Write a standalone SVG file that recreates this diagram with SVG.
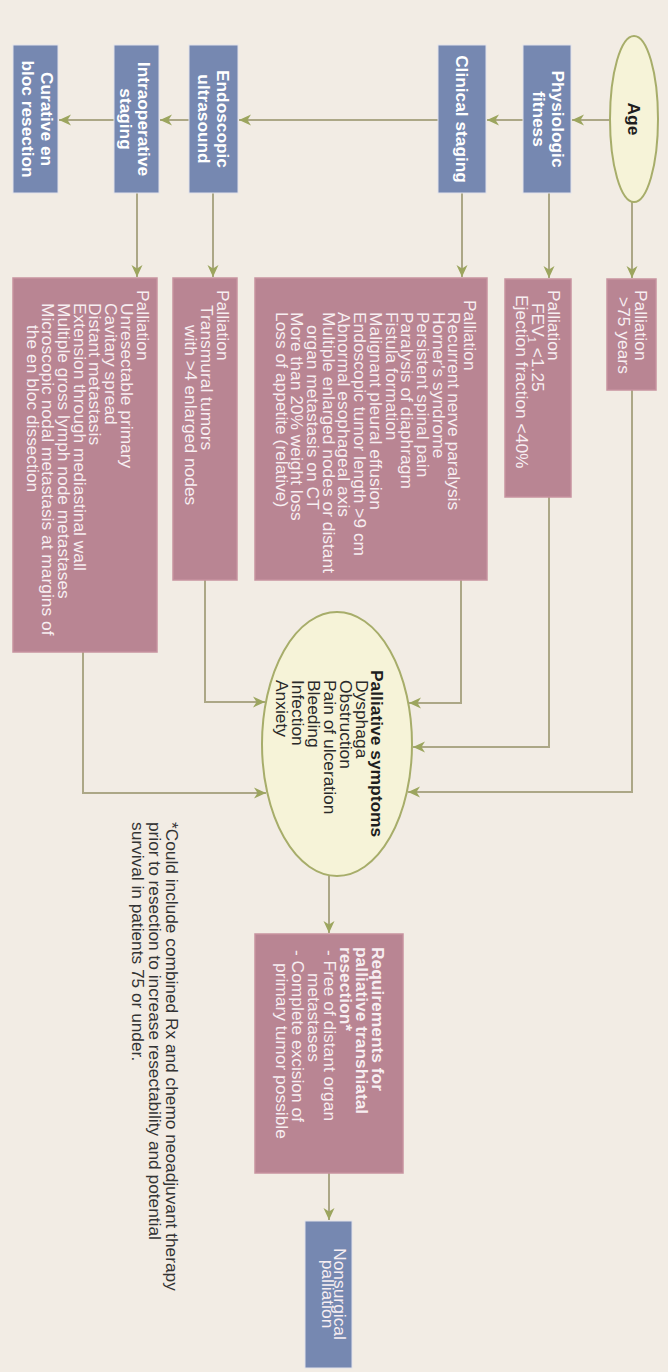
<svg xmlns="http://www.w3.org/2000/svg" width="668" height="1372" viewBox="0 0 668 1372">
<style>
.bg{fill:#f2ece4}
.blue{fill:#7688b1;stroke:#e2e2ea;stroke-width:1}
.pink{fill:#b98593;stroke:#c7929f;stroke-width:1.5}
.ell{fill:#f6f3d8;stroke:#a7ad6a;stroke-width:2}
.conn{fill:none;stroke:#aca786;stroke-width:2}
.bt{font-family:"Liberation Sans",Arial,sans-serif;font-weight:bold;font-size:17.3px;fill:#ffffff;text-anchor:middle}
.pt{font-family:"Liberation Sans",Arial,sans-serif;font-size:17.4px;fill:#f7eef1}
.ptb{font-family:"Liberation Sans",Arial,sans-serif;font-size:17.4px;font-weight:bold;fill:#f7eef1}
.et{font-family:"Liberation Sans",Arial,sans-serif;font-size:17.4px;fill:#2a2a2a}
.etb{font-family:"Liberation Sans",Arial,sans-serif;font-size:17.4px;font-weight:bold;fill:#1e1e1e}
.fn{font-family:"Liberation Sans",Arial,sans-serif;font-size:17.3px;fill:#333333}
</style>
<defs>
<marker id="ah" markerUnits="userSpaceOnUse" markerWidth="13" markerHeight="12" refX="12" refY="6" orient="auto">
<path d="M0,0.5 L12,6 L0,11.5 L3.5,6 z" fill="#9ca55e"/>
</marker>
</defs>
<rect class="bg" x="0" y="0" width="668" height="1372"/>
<g transform="translate(668,0) rotate(90)">
  <g id="connectors">
    <path class="conn" marker-end="url(#ah)" d="M120,58 L120,96"/>
    <path class="conn" marker-end="url(#ah)" d="M120,145 L120,181"/>
    <path class="conn" marker-end="url(#ah)" d="M120,230 L120,429"/>
    <path class="conn" marker-end="url(#ah)" d="M120,479 L120,508"/>
    <path class="conn" marker-end="url(#ah)" d="M120,554 L120,609"/>
    <path class="conn" marker-end="url(#ah)" d="M202,36 L278,36"/>
    <path class="conn" marker-end="url(#ah)" d="M193,119 L278,119"/>
    <path class="conn" marker-end="url(#ah)" d="M193,206 L277,206"/>
    <path class="conn" marker-end="url(#ah)" d="M193,455 L277,455"/>
    <path class="conn" marker-end="url(#ah)" d="M193,531 L277,531"/>
    <path class="conn" marker-end="url(#ah)" d="M390,36 L792,36 L792,260"/>
    <path class="conn" marker-end="url(#ah)" d="M497,119 L747,119 L747,255"/>
    <path class="conn" marker-end="url(#ah)" d="M580,207 L703,207 L703,259"/>
    <path class="conn" marker-end="url(#ah)" d="M580,463 L702,463 L702,403"/>
    <path class="conn" marker-end="url(#ah)" d="M652,585 L793,585 L793,402"/>
    <path class="conn" marker-end="url(#ah)" d="M876,339 L933,339"/>
    <path class="conn" marker-end="url(#ah)" d="M1173,339 L1220,339"/>
  </g>
  <g id="age">
    <ellipse class="ell" cx="119" cy="34" rx="83" ry="24"/>
    <text class="etb" x="119" y="40" text-anchor="middle">Age</text>
  </g>
  <g id="fitness">
    <rect class="blue" x="45" y="97" width="148" height="48"/>
    <text class="bt"><tspan x="119" y="116">Physiologic</tspan><tspan x="119" y="135">fitness</tspan></text>
  </g>
  <g id="clinical">
    <rect class="blue" x="45" y="182" width="148" height="48"/>
    <text class="bt" x="119" y="212">Clinical staging</text>
  </g>
  <g id="endoscopic">
    <rect class="blue" x="45" y="430" width="148" height="49"/>
    <text class="bt"><tspan x="119" y="451">Endoscopic</tspan><tspan x="119" y="470">ultrasound</tspan></text>
  </g>
  <g id="intraop">
    <rect class="blue" x="45" y="509" width="148" height="45"/>
    <text class="bt"><tspan x="119" y="530">Intraoperative</tspan><tspan x="119" y="548">staging</tspan></text>
  </g>
  <g id="curative">
    <rect class="blue" x="45" y="610" width="148" height="45"/>
    <text class="bt"><tspan x="119" y="627">Curative en</tspan><tspan x="119" y="646">bloc resection</tspan></text>
  </g>
  <g id="pal-age">
    <rect class="pink" x="279" y="12" width="111" height="49"/>
    <text class="pt"><tspan x="290" y="33">Palliation</tspan><tspan x="297" y="50">&gt;75 years</tspan></text>
  </g>
  <g id="pal-fev">
    <rect class="pink" x="279" y="97" width="218" height="66"/>
    <text class="pt"><tspan x="290" y="120">Palliation</tspan><tspan x="303" y="136">FEV</tspan><tspan font-size="11" dy="4">1</tspan><tspan dy="-4"> &lt;1.25</tspan><tspan x="295" y="152">Ejection fraction  &lt;40%</tspan></text>
  </g>
  <g id="pal-clinical">
    <rect class="pink" x="278" y="181" width="302" height="232"/>
    <text class="pt">
      <tspan x="300" y="204">Palliation</tspan>
      <tspan x="312" y="219.7">Recurrent nerve paralysis</tspan>
      <tspan x="312" y="235.4">Horner's syndrome</tspan>
      <tspan x="312" y="251.1">Persistent spinal pain</tspan>
      <tspan x="312" y="266.8">Paralysis of diaphragm</tspan>
      <tspan x="312" y="282.5">Fistula formation</tspan>
      <tspan x="312" y="298.2">Malignant pleural effusion</tspan>
      <tspan x="312" y="313.9">Endoscopic tumor length &gt;9 cm</tspan>
      <tspan x="312" y="329.6">Abnormal esophageal axis</tspan>
      <tspan x="312" y="345.3">Multiple enlarged nodes or distant</tspan>
      <tspan x="325" y="361">organ metastasis on CT</tspan>
      <tspan x="312" y="376.7">More than 20% weight loss</tspan>
      <tspan x="312" y="392.4">Loss of appetite (relative)</tspan>
    </text>
  </g>
  <g id="pal-endo">
    <rect class="pink" x="278" y="431" width="302" height="64"/>
    <text class="pt"><tspan x="290" y="451">Palliation</tspan><tspan x="305" y="467">Transmural tumors</tspan><tspan x="325" y="483">with &gt;4 enlarged nodes</tspan></text>
  </g>
  <g id="pal-intraop">
    <rect class="pink" x="278" y="511" width="374" height="144"/>
    <text class="pt">
      <tspan x="290" y="531.5">Palliation</tspan>
      <tspan x="303" y="547.2">Unresectable primary</tspan>
      <tspan x="303" y="562.9">Cavitary spread</tspan>
      <tspan x="303" y="578.6">Distant metastasis</tspan>
      <tspan x="303" y="594.3">Extension through mediastinal wall</tspan>
      <tspan x="303" y="610">Multiple gross lymph node metastases</tspan>
      <tspan x="303" y="625.7">Microscopic nodal metastasis at margins of</tspan>
      <tspan x="325" y="641.4">the en bloc dissection</tspan>
    </text>
  </g>
  <g id="symptoms">
    <ellipse class="ell" cx="744" cy="331" rx="132" ry="75"/>
    <text class="etb" x="670" y="297">Palliative symptoms</text>
    <text class="et">
      <tspan x="680" y="312">Dysphaga</tspan>
      <tspan x="680" y="328">Obstruction</tspan>
      <tspan x="680" y="344">Pain of ulceration</tspan>
      <tspan x="680" y="360">Bleeding</tspan>
      <tspan x="680" y="376">Infection</tspan>
      <tspan x="680" y="392">Anxiety</tspan>
    </text>
  </g>
  <g id="requirements">
    <rect class="pink" x="934" y="265" width="239" height="148"/>
    <text class="ptb"><tspan x="947" y="296">Requirements for</tspan><tspan x="947" y="312">palliative transhiatal</tspan><tspan x="947" y="328">resection*</tspan></text>
    <text class="pt"><tspan x="950" y="344">- Free of distant organ</tspan><tspan x="973" y="360">metastases</tspan><tspan x="950" y="376">- Complete excision of</tspan><tspan x="963" y="392">primary tumor possible</tspan></text>
  </g>
  <g id="nonsurgical">
    <rect class="blue" x="1221" y="316" width="147" height="47"/>
    <text class="pt" text-anchor="middle" font-size="15.5"><tspan x="1294" y="334">Nonsurgical</tspan><tspan x="1294" y="346">palliation</tspan></text>
  </g>
  <g id="footnote">
    <text class="fn"><tspan x="822" y="502">*Could include combined Rx and chemo neoadjuvant therapy</tspan><tspan x="822" y="519">prior to resection to increase resectability and potential</tspan><tspan x="822" y="536">survival in patients 75 or under.</tspan></text>
  </g>
</g>
</svg>
